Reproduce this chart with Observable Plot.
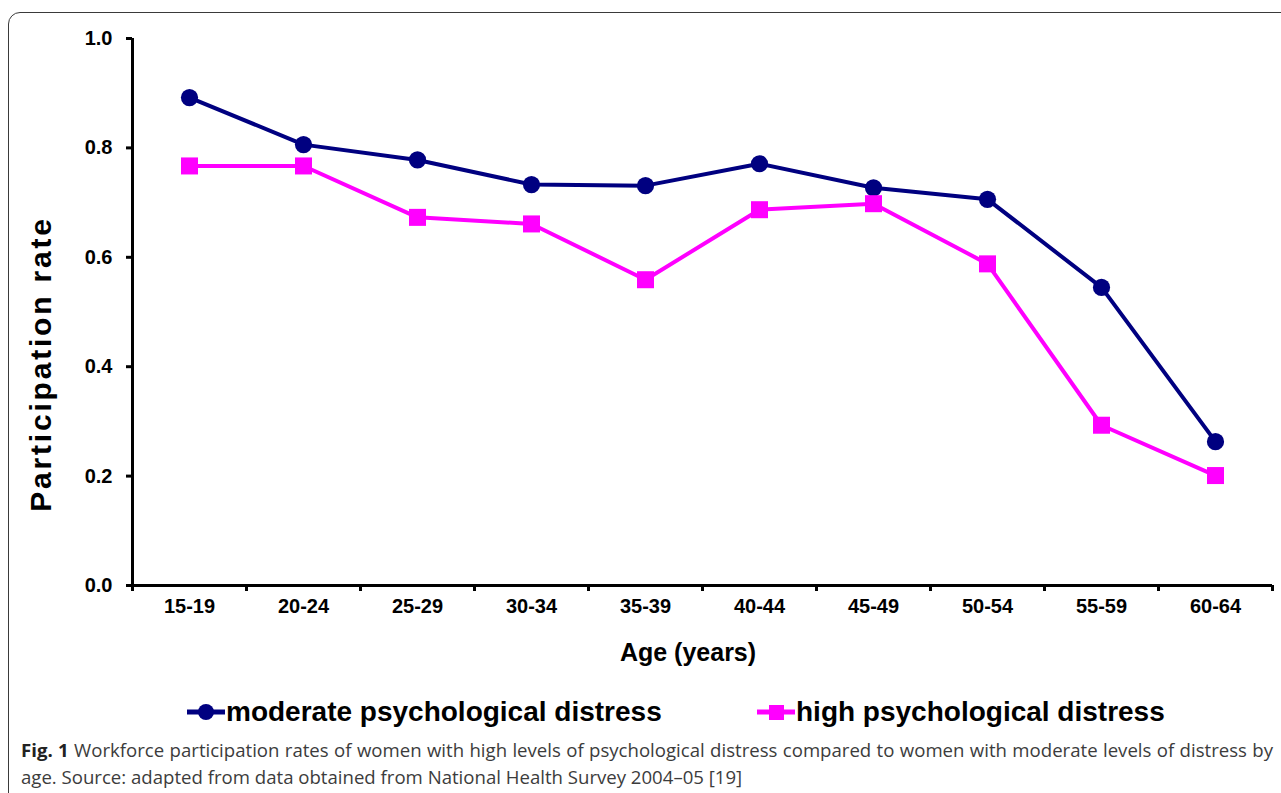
<!DOCTYPE html>
<html>
<head>
<meta charset="utf-8">
<script src="https://cdn.jsdelivr.net/npm/d3@7"></script>
<script src="https://cdn.jsdelivr.net/npm/@observablehq/plot@0.6"></script>
<style>
  html, body { margin:0; padding:0; background:#fff; width:1281px; height:793px; overflow:hidden; }
  #wrap { position:relative; width:1281px; height:793px; }
  #frame { position:absolute; left:8px; top:12px; width:1300px; height:820px; border:1.5px solid #3a3a3a; border-radius:12px; box-sizing:border-box; }
  #chart { position:absolute; left:0; top:0; }
  .axt { position:absolute; font-family:"Liberation Sans", Arial, sans-serif; font-weight:bold; color:#000; white-space:nowrap; line-height:1; }
  #ylab { left:41px; top:364px; font-size:30px; letter-spacing:2.8px; transform:translate(-50%,-50%) rotate(-90deg); }
  #xlab { left:688px; top:652px; font-size:25px; transform:translate(-50%,-50%); }
  .leg { position:absolute; top:695px; height:34px; display:flex; align-items:center; font-family:"Liberation Sans", Arial, sans-serif; font-weight:bold; font-size:28px; color:#000; white-space:nowrap; }
  .leg svg { display:block; }
  #cap { position:absolute; left:21px; top:736px; width:1252px; font-family:"Open Sans", sans-serif; font-size:18.6px; color:#3c3c3c; line-height:27px; }
  #cap .l1 { text-align:justify; text-align-last:justify; white-space:nowrap; }
  #cap b { color:#222; }
</style>
</head>
<body>
<div id="wrap">
  <div id="chart"></div>
  <div id="ylab" class="axt"></div>
  <div id="xlab" class="axt"></div>
  <div id="leg1" class="leg" style="left:185px"></div>
  <div id="leg2" class="leg" style="left:755px"></div>
  <div id="cap"></div>
  <div id="frame"></div>
</div>
<script>
const ages = ["15-19","20-24","25-29","30-34","35-39","40-44","45-49","50-54","55-59","60-64"];
const moderate = [0.892,0.806,0.778,0.733,0.731,0.771,0.727,0.706,0.545,0.263];
const high = [0.767,0.767,0.673,0.661,0.559,0.687,0.698,0.588,0.293,0.201];
const yTicks = [0,0.2,0.4,0.6,0.8,1.0];
const seriesNames = ["moderate psychological distress","high psychological distress"];
const seriesColors = ["#000080","#ff00ff"];
const yTitle = "Participation rate";
const xTitle = "Age (years)";
const captionBold = "Fig. 1";
const captionLine1 = "Workforce participation rates of women with high levels of psychological distress compared to women with moderate levels of distress by";
const captionLine2 = "age. Source: adapted from data obtained from National Health Survey 2004–05 [19]";

const rows = ages.map((a, i) => ({i, age:a, moderate:moderate[i], high:high[i]}));
const idx = ages.map((a, i) => i);
const bounds = ages.map((a, i) => i - 0.5).concat([ages.length - 0.5]);

const chart = Plot.plot({
  width:1281, height:680,
  marginLeft:132, marginRight:9, marginTop:38, marginBottom:95,
  x:{type:"linear", domain:[-0.5, ages.length - 0.5]},
  y:{domain:[0,1]},
  style:{fontFamily:"'Liberation Sans', Arial, sans-serif", fontWeight:"bold", fontSize:"20px", color:"#000", background:"transparent", overflow:"visible"},
  marks:[
    Plot.axisY({ticks:yTicks, tickFormat:d => d.toFixed(1), tickSize:6, tickPadding:14, strokeWidth:3, label:null, fontSize:20}),
    Plot.axisX({ticks:bounds, tickFormat:() => "", tickSize:6, strokeWidth:3, label:null}),
    Plot.axisX({ticks:idx, tickFormat:i => ages[i], tickSize:0, tickPadding:13, label:null, fontSize:20}),
    Plot.ruleX([-0.5], {stroke:"#000", strokeWidth:3}),
    Plot.ruleY([0], {stroke:"#000", strokeWidth:3}),
    Plot.line(rows, {x:"i", y:"moderate", stroke:seriesColors[0], strokeWidth:4}),
    Plot.dot(rows, {x:"i", y:"moderate", fill:seriesColors[0], r:8.6, symbol:"circle"}),
    Plot.line(rows, {x:"i", y:"high", stroke:seriesColors[1], strokeWidth:4}),
    Plot.dot(rows, {x:"i", y:"high", fill:seriesColors[1], r:9.6, symbol:"square"})
  ]
});
document.getElementById("chart").appendChild(chart);
document.getElementById("ylab").textContent = yTitle;
document.getElementById("xlab").textContent = xTitle;

function legendItem(el, name, color, shape) {
  const s = d3.create("svg").attr("width", 42).attr("height", 34);
  s.append("line").attr("x1", 2).attr("x2", 40).attr("y1", 17).attr("y2", 17).attr("stroke", color).attr("stroke-width", 5);
  if (shape === "circle") s.append("circle").attr("cx", 21).attr("cy", 17).attr("r", 8).attr("fill", color);
  else s.append("rect").attr("x", 14).attr("y", 10).attr("width", 15).attr("height", 15).attr("fill", color);
  el.appendChild(s.node());
  const t = document.createElement("span");
  t.textContent = name;
  t.style.marginLeft = "-1px";
  el.appendChild(t);
}
legendItem(document.getElementById("leg1"), seriesNames[0], seriesColors[0], "circle");
legendItem(document.getElementById("leg2"), seriesNames[1], seriesColors[1], "square");

const cap = document.getElementById("cap");
const l1 = document.createElement("div"); l1.className = "l1";
const b = document.createElement("b"); b.textContent = captionBold;
l1.appendChild(b); l1.appendChild(document.createTextNode(" " + captionLine1));
const l2 = document.createElement("div"); l2.textContent = captionLine2;
cap.appendChild(l1); cap.appendChild(l2);
</script>
</body>
</html>
